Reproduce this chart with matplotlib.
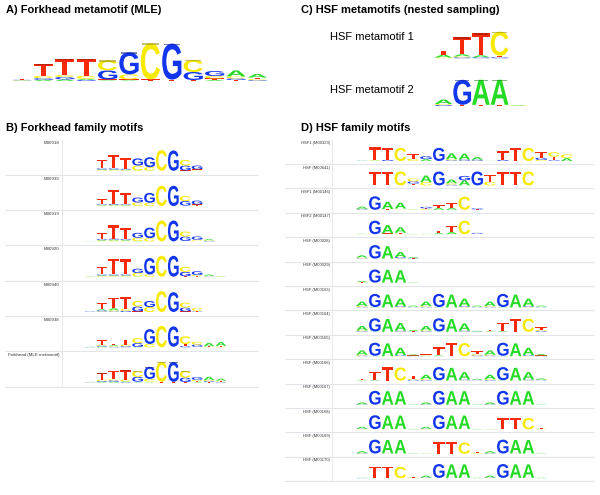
import numpy as np
import matplotlib
matplotlib.use('Agg')
from matplotlib import pyplot as plt
from matplotlib.textpath import TextPath
from matplotlib.font_manager import FontProperties
from matplotlib.patches import PathPatch, Rectangle
from matplotlib.transforms import Affine2D
import matplotlib.colors as mcolors

# letter heights in bits, each column listed bottom -> top
FKH_MLE = [
    {'A': 0.02, 'C': 0.02, 'G': 0.02, 'T': 0.02},
    {'A': 0.06, 'G': 0.08, 'C': 0.12, 'T': 0.6},
    {'A': 0.08, 'G': 0.12, 'C': 0.1, 'T': 0.8},
    {'G': 0.05, 'A': 0.06, 'C': 0.15, 'T': 0.85},
    {'A': 0.03, 'T': 0.05, 'G': 0.45, 'C': 0.5},
    {'A': 0.03, 'T': 0.05, 'C': 0.25, 'G': 1.1},
    {'T': 0.08, 'C': 1.8},
    {'T': 0.07, 'G': 1.8},
    {'T': 0.05, 'G': 0.4, 'C': 0.6},
    {'A': 0.05, 'T': 0.08, 'C': 0.12, 'G': 0.25},
    {'T': 0.05, 'G': 0.08, 'C': 0.1, 'A': 0.3},
    {'G': 0.04, 'C': 0.05, 'T': 0.08, 'A': 0.18},
]

M00918 = [
    {},
    {'C': 0.06, 'A': 0.06, 'G': 0.1, 'T': 0.8},
    {'C': 0.06, 'A': 0.06, 'G': 0.1, 'T': 1.2},
    {'C': 0.05, 'A': 0.05, 'G': 0.08, 'T': 1.0},
    {'A': 0.03, 'C': 0.45, 'G': 0.65},
    {'A': 0.03, 'C': 0.3, 'G': 0.9},
    {'C': 1.88},
    {'G': 1.85},
    {'T': 0.03, 'G': 0.45, 'C': 0.5},
    {'C': 0.05, 'T': 0.08, 'G': 0.35},
]

M00939 = [
    {},
    {'C': 0.05, 'A': 0.05, 'G': 0.06, 'T': 0.5},
    {'C': 0.06, 'A': 0.06, 'G': 0.08, 'T': 1.25},
    {'C': 0.05, 'A': 0.05, 'G': 0.06, 'T': 1.0},
    {'A': 0.03, 'C': 0.3, 'G': 0.45},
    {'C': 0.3, 'G': 0.9},
    {'C': 1.85},
    {'G': 1.85},
    {'T': 0.04, 'G': 0.42, 'C': 0.45},
    {'C': 0.05, 'T': 0.1, 'G': 0.35},
]

M00919 = [
    {'A': 0.02, 'T': 0.02},
    {'C': 0.06, 'A': 0.06, 'G': 0.08, 'T': 0.55},
    {'C': 0.08, 'A': 0.08, 'G': 0.09, 'T': 1.2},
    {'C': 0.06, 'A': 0.06, 'G': 0.08, 'T': 1.0},
    {'A': 0.03, 'C': 0.3, 'G': 0.45},
    {'C': 0.3, 'G': 0.95},
    {'C': 1.9},
    {'G': 1.9},
    {'T': 0.04, 'G': 0.4, 'C': 0.45},
    {'T': 0.05, 'C': 0.1, 'G': 0.3},
    {'G': 0.04, 'C': 0.06, 'A': 0.1},
]

M00920 = [
    {'C': 0.02, 'A': 0.03},
    {'C': 0.06, 'A': 0.06, 'G': 0.08, 'T': 0.7},
    {'C': 0.06, 'A': 0.06, 'G': 0.08, 'T': 1.45},
    {'C': 0.06, 'A': 0.06, 'G': 0.08, 'T': 1.4},
    {'A': 0.03, 'C': 0.3, 'G': 0.4},
    {'C': 0.2, 'G': 1.5},
    {'C': 1.9},
    {'G': 1.9},
    {'T': 0.04, 'G': 0.4, 'C': 0.45},
    {'T': 0.05, 'C': 0.1, 'G': 0.35},
    {'G': 0.03, 'C': 0.05, 'A': 0.12},
    {'C': 0.02, 'A': 0.04},
]

M00940 = [
    {'T': 0.04, 'G': 0.04},
    {'C': 0.05, 'G': 0.1, 'A': 0.1, 'T': 0.55},
    {'G': 0.05, 'C': 0.1, 'A': 0.2, 'T': 0.95},
    {'G': 0.1, 'C': 0.2, 'T': 1.05},
    {'T': 0.05, 'G': 0.45, 'C': 0.5},
    {'C': 0.45, 'G': 0.55},
    {'C': 1.9},
    {'G': 1.8},
    {'T': 0.05, 'G': 0.35, 'C': 0.45},
    {'G': 0.04, 'T': 0.08, 'C': 0.25},
]

M00938 = [
    {'G': 0.02, 'A': 0.03},
    {'A': 0.06, 'G': 0.08, 'C': 0.1, 'T': 0.45},
    {'G': 0.05, 'C': 0.06, 'A': 0.08, 'T': 0.12},
    {'G': 0.1, 'C': 0.15, 'T': 0.45},
    {'A': 0.03, 'G': 0.35, 'C': 0.45},
    {'C': 0.3, 'G': 1.35},
    {'C': 1.95},
    {'T': 0.05, 'G': 1.85},
    {'G': 0.1, 'T': 0.2, 'C': 0.7},
    {'T': 0.05, 'G': 0.2, 'C': 0.25},
    {'C': 0.05, 'T': 0.05, 'A': 0.3},
    {'C': 0.05, 'T': 0.08, 'A': 0.35},
]

HSF_META1 = [
    {'C': 0.04, 'A': 0.14, 'T': 0.2},
    {'G': 0.05, 'C': 0.05, 'A': 0.1, 'T': 0.85},
    {'G': 0.05, 'A': 0.1, 'T': 1.1},
    {'G': 0.05, 'T': 0.08, 'C': 1.2},
]

HSF_META2 = [
    {'G': 0.05, 'C': 0.05, 'A': 0.22},
    {'T': 0.06, 'G': 1.25},
    {'T': 0.06, 'A': 1.25},
    {'T': 0.06, 'A': 1.25},
    {'C': 0.02, 'A': 0.03},
]

M00323 = [
    {'G': 0.02, 'A': 0.03},
    {'A': 0.05, 'C': 0.05, 'T': 1.75},
    {'G': 0.15, 'T': 1.6},
    {'C': 1.8},
    {'C': 0.3, 'T': 0.7},
    {'A': 0.25, 'G': 0.4},
    {'G': 1.8},
    {'G': 0.1, 'C': 0.15, 'A': 0.8},
    {'C': 0.05, 'G': 0.15, 'A': 0.8},
    {'C': 0.05, 'G': 0.15, 'A': 0.35},
    {'A': 0.02, 'T': 0.04},
    {'G': 0.15, 'T': 1.2},
    {'T': 1.8},
    {'C': 1.8},
    {'C': 0.15, 'G': 0.3, 'T': 0.8},
    {'G': 0.1, 'T': 0.5, 'C': 0.6},
    {'A': 0.4, 'C': 0.5},
]

M00641 = [
    {},
    {'T': 1.9},
    {'T': 1.9},
    {'C': 1.9},
    {'T': 0.25, 'G': 0.3, 'C': 0.4},
    {'C': 0.45, 'A': 0.9},
    {'G': 1.9},
    {'G': 0.1, 'C': 0.2, 'A': 0.5},
    {'A': 0.7, 'G': 0.6},
    {'G': 1.9},
    {'C': 0.5, 'T': 0.9},
    {'T': 1.9},
    {'T': 1.9},
    {'C': 1.9},
]

M00146 = [
    {'C': 0.05, 'G': 0.08, 'A': 0.3},
    {'G': 1.85},
    {'T': 0.1, 'A': 1.0},
    {'C': 0.05, 'T': 0.12, 'A': 0.8},
    {'C': 0.03, 'A': 0.04},
    {'C': 0.1, 'T': 0.1, 'G': 0.2},
    {'A': 0.25, 'T': 0.4},
    {'A': 0.25, 'T': 0.65},
    {'C': 1.8},
    {'T': 0.05, 'G': 0.15},
]

M00147 = [
    {'C': 0.02, 'A': 0.04},
    {'G': 1.85},
    {'T': 0.1, 'A': 1.15},
    {'C': 0.05, 'T': 0.15, 'A': 0.75},
    {'A': 0.03},
    {'C': 0.02, 'A': 0.03},
    {'A': 0.15, 'T': 0.3},
    {'A': 0.3, 'T': 0.8},
    {'C': 1.85},
    {'T': 0.06, 'G': 0.12},
]

M00028 = [
    {'G': 0.05, 'C': 0.1, 'A': 0.3},
    {'G': 1.85},
    {'A': 1.7},
    {'C': 0.05, 'G': 0.15, 'A': 0.7},
    {'T': 0.04, 'G': 0.06, 'A': 0.12},
]

M00029 = [
    {'C': 0.04, 'T': 0.08, 'A': 0.15},
    {'T': 0.05, 'G': 1.8},
    {'T': 0.05, 'A': 1.75},
    {'T': 0.05, 'A': 1.7},
    {'A': 0.06},
]

M00163 = [
    {'G': 0.08, 'C': 0.12, 'A': 0.6},
    {'A': 0.05, 'G': 1.8},
    {'A': 1.75},
    {'C': 0.05, 'G': 0.1, 'A': 1.05},
    {'G': 0.04, 'T': 0.06, 'A': 0.15},
    {'G': 0.08, 'C': 0.12, 'A': 0.6},
    {'A': 0.05, 'G': 1.8},
    {'A': 1.75},
    {'C': 0.05, 'G': 0.1, 'A': 1.05},
    {'G': 0.04, 'T': 0.06, 'A': 0.15},
    {'G': 0.08, 'C': 0.12, 'A': 0.6},
    {'A': 0.05, 'G': 1.8},
    {'A': 1.75},
    {'C': 0.05, 'G': 0.1, 'A': 1.05},
    {'G': 0.04, 'T': 0.06, 'A': 0.15},
]

M00164 = [
    {'G': 0.08, 'C': 0.12, 'A': 0.6},
    {'A': 0.05, 'G': 1.8},
    {'A': 1.75},
    {'C': 0.05, 'G': 0.1, 'A': 1.05},
    {'G': 0.04, 'T': 0.06, 'A': 0.15},
    {'G': 0.08, 'C': 0.12, 'A': 0.6},
    {'A': 0.05, 'G': 1.8},
    {'A': 1.75},
    {'C': 0.05, 'G': 0.1, 'A': 1.0},
    {'G': 0.04, 'A': 0.1},
    {'C': 0.05, 'A': 0.06, 'T': 0.12},
    {'A': 0.1, 'T': 1.1},
    {'T': 1.8},
    {'C': 1.8},
    {'G': 0.1, 'C': 0.15, 'T': 0.4},
]

M00165 = [
    {'G': 0.08, 'C': 0.12, 'A': 0.6},
    {'A': 0.05, 'G': 1.8},
    {'A': 1.75},
    {'C': 0.05, 'G': 0.1, 'A': 1.0},
    {'G': 0.04, 'T': 0.06, 'A': 0.15},
    {'A': 0.06, 'C': 0.06, 'T': 0.12},
    {'A': 0.1, 'T': 1.1},
    {'T': 1.8},
    {'C': 1.8},
    {'G': 0.1, 'C': 0.15, 'T': 0.4},
    {'G': 0.08, 'C': 0.12, 'A': 0.6},
    {'A': 0.05, 'G': 1.8},
    {'A': 1.75},
    {'C': 0.05, 'G': 0.1, 'A': 1.0},
    {'G': 0.04, 'T': 0.06, 'A': 0.2},
]

M00166 = [
    {'C': 0.04, 'A': 0.06, 'T': 0.12},
    {'A': 0.1, 'T': 1.1},
    {'T': 1.8},
    {'C': 1.8},
    {'G': 0.1, 'C': 0.15, 'T': 0.4},
    {'G': 0.08, 'C': 0.12, 'A': 0.6},
    {'A': 0.05, 'G': 1.8},
    {'A': 1.75},
    {'C': 0.05, 'G': 0.1, 'A': 1.0},
    {'G': 0.04, 'T': 0.06, 'A': 0.15},
    {'G': 0.08, 'C': 0.12, 'A': 0.6},
    {'A': 0.05, 'G': 1.8},
    {'A': 1.75},
    {'C': 0.05, 'G': 0.1, 'A': 1.0},
    {'G': 0.04, 'T': 0.06, 'A': 0.2},
]

M00167 = [
    {'C': 0.05, 'G': 0.05, 'A': 0.25},
    {'T': 0.04, 'G': 1.9},
    {'T': 0.04, 'A': 1.85},
    {'T': 0.04, 'A': 1.85},
    {'A': 0.06},
    {'C': 0.05, 'G': 0.05, 'A': 0.25},
    {'T': 0.04, 'G': 1.9},
    {'T': 0.04, 'A': 1.85},
    {'T': 0.04, 'A': 1.85},
    {'A': 0.06},
    {'C': 0.05, 'G': 0.05, 'A': 0.25},
    {'T': 0.04, 'G': 1.9},
    {'T': 0.04, 'A': 1.85},
    {'T': 0.04, 'A': 1.85},
    {'A': 0.06},
]

M00168 = [
    {'C': 0.05, 'G': 0.05, 'A': 0.25},
    {'T': 0.04, 'G': 1.9},
    {'T': 0.04, 'A': 1.85},
    {'T': 0.04, 'A': 1.85},
    {'A': 0.06},
    {'C': 0.05, 'G': 0.05, 'A': 0.25},
    {'T': 0.04, 'G': 1.9},
    {'T': 0.04, 'A': 1.85},
    {'T': 0.04, 'A': 1.85},
    {'A': 0.05},
    {'C': 0.02, 'A': 0.03},
    {'T': 1.6},
    {'T': 1.6},
    {'C': 1.55},
    {'C': 0.08, 'T': 0.15},
]

M00169 = [
    {'C': 0.05, 'G': 0.05, 'A': 0.25},
    {'T': 0.04, 'G': 1.9},
    {'T': 0.04, 'A': 1.85},
    {'T': 0.04, 'A': 1.85},
    {'A': 0.05},
    {'C': 0.02, 'A': 0.03},
    {'T': 1.6},
    {'T': 1.6},
    {'C': 1.55},
    {'C': 0.08, 'T': 0.15},
    {'C': 0.05, 'G': 0.05, 'A': 0.25},
    {'T': 0.04, 'G': 1.9},
    {'T': 0.04, 'A': 1.85},
    {'T': 0.04, 'A': 1.85},
    {'A': 0.06},
]

M00170 = [
    {'G': 0.03, 'A': 0.03},
    {'T': 1.6},
    {'T': 1.6},
    {'C': 1.55},
    {'C': 0.08, 'T': 0.15},
    {'C': 0.05, 'G': 0.05, 'A': 0.25},
    {'T': 0.04, 'G': 1.9},
    {'T': 0.04, 'A': 1.85},
    {'T': 0.04, 'A': 1.85},
    {'A': 0.06},
    {'C': 0.05, 'G': 0.05, 'A': 0.25},
    {'T': 0.04, 'G': 1.9},
    {'T': 0.04, 'A': 1.85},
    {'T': 0.04, 'A': 1.85},
    {'A': 0.06},
]

B_LABELS = ['M00918', 'M00939', 'M00919', 'M00920', 'M00940', 'M00938',
            'Forkhead (MLE metamotif)']
B_MOTIFS = [M00918, M00939, M00919, M00920, M00940, M00938, FKH_MLE]

D_LABELS = ['HSF1 (M00323)', 'HSF (M00641)', 'HSF1 (M00146)', 'HSF2 (M00147)',
            'HSF (M00028)', 'HSF (M00029)', 'HSF (M00163)', 'HSF (M00164)',
            'HSF (M00165)', 'HSF (M00166)', 'HSF (M00167)', 'HSF (M00168)',
            'HSF (M00169)', 'HSF (M00170)']
D_MOTIFS = [M00323, M00641, M00146, M00147, M00028, M00029, M00163, M00164,
            M00165, M00166, M00167, M00168, M00169, M00170]

COLORS = {'A': '#25db25', 'C': '#f7ea00', 'G': '#1236ee', 'T': '#f42a0a'}
FONT = FontProperties(family='Liberation Sans', weight='bold')
LINE = '#e2e6ea'

W, H = 600, 495
fig = plt.figure(figsize=(6, 4.95), dpi=100)
bg = fig.add_axes([0, 0, 1, 1])
bg.set_xlim(0, W)
bg.set_ylim(H, 0)
bg.axis('off')

_glyphs = {}
def glyph(letter):
    if letter not in _glyphs:
        p = TextPath((0, 0), letter, size=1, prop=FONT)
        _glyphs[letter] = (p, p.get_extents())
    return _glyphs[letter]

def logo(x0, step, baseline, px_per_bit, columns, bars=False, frac=0.9):
    # x0: centre of first column (px), baseline in px from top
    n = len(columns)
    left = x0 - step / 2
    ax = fig.add_axes([left / W, 1 - baseline / H, n * step / W, 2 * px_per_bit / H])
    ax.set_xlim(-0.5, n - 0.5)
    ax.set_ylim(0, 2)
    ax.axis('off')
    for i, col in enumerate(columns):
        y = 0
        for letter, h in col.items():
            p, bb = glyph(letter)
            t = Affine2D().translate(-bb.x0, -bb.y0).scale(frac / bb.width, h / bb.height)
            t = t.translate(i - frac / 2, y)
            ax.add_patch(PathPatch(t.transform_path(p), fc=COLORS[letter], ec='none',
                                   lw=0, clip_on=False))
            y += h
        if bars and col:
            top = list(col)[-1]
            if col[top] < 0.5:
                continue
            dark = np.array(mcolors.to_rgb(COLORS[top])) * 0.6
            ax.add_patch(Rectangle((i - 0.38, y - 0.07), 0.76, 0.07, fc=dark, ec='none',
                                   alpha=0.55, clip_on=False))
    return ax

title_kw = dict(fontsize=8, fontweight='bold', family='Liberation Sans', va='center')

# A) Forkhead metamotif
bg.text(6, 10, 'A) Forkhead metamotif (MLE)', **title_kw)
logo(22, 21.4, 81, 20, FKH_MLE, bars=True)

# C) HSF metamotifs
bg.text(301, 10, 'C) HSF metamotifs (nested sampling)', **title_kw)
bg.text(330, 37, 'HSF metamotif 1', fontsize=8, family='Liberation Sans', va='center')
bg.text(330, 90, 'HSF metamotif 2', fontsize=8, family='Liberation Sans', va='center')
logo(443.5, 18.7, 58.3, 20, HSF_META1, bars=True, frac=0.95)
logo(443.5, 18.7, 106, 20, HSF_META2, bars=True, frac=0.95)

# B) Forkhead family motifs
bg.text(6, 128, 'B) Forkhead family motifs', **title_kw)
b_top, b_h = 139.5, 35.3
bg.plot([62, 62], [b_top, b_top + b_h * len(B_MOTIFS)], color=LINE, lw=0.6)
for i, (lab, mot) in enumerate(zip(B_LABELS, B_MOTIFS)):
    top = b_top + i * b_h
    sep = top + b_h
    bg.plot([5, 258], [sep, sep], color=LINE, lw=0.8)
    bg.text(59, top + 4, lab, ha='right', va='center', fontsize=3.2,
            family='Liberation Sans', color='#333333')
    logo(90, 11.9, sep - 4, 11, mot, bars=(mot is FKH_MLE))

# D) HSF family motifs
bg.text(301, 128, 'D) HSF family motifs', **title_kw)
d_top, d_h = 139.6, 24.4
bg.plot([332, 332], [d_top, d_top + d_h * len(D_MOTIFS)], color=LINE, lw=0.6)
for i, (lab, mot) in enumerate(zip(D_LABELS, D_MOTIFS)):
    top = d_top + i * d_h
    sep = top + d_h
    bg.plot([285, 593], [sep, sep], color=LINE, lw=0.8)
    bg.text(330, top + 3.5, lab, ha='right', va='center', fontsize=3.0,
            family='Liberation Sans', color='#333333')
    logo(362, 12.8, sep - 3, 7.3, mot)

fig.savefig('out.png', dpi=100)
